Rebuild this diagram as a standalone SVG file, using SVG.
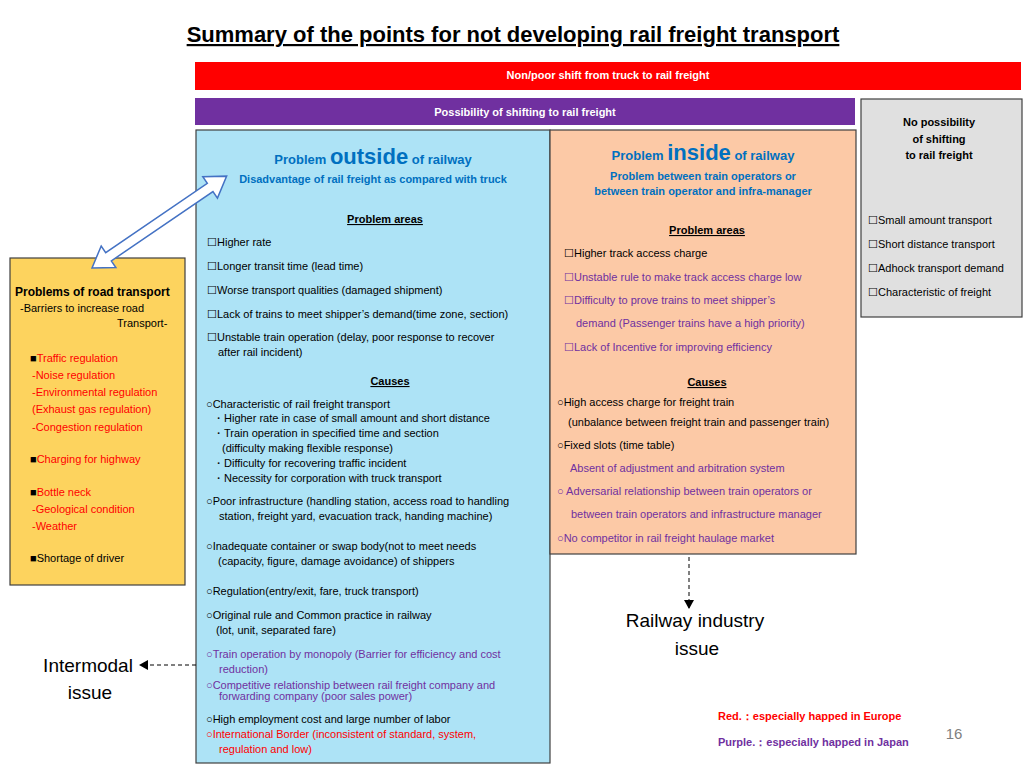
<svg xmlns="http://www.w3.org/2000/svg" width="1024" height="768" viewBox="0 0 1024 768">
<defs>
<style>
text{font-family:"Liberation Sans",Arial,sans-serif;font-size:11px;fill:#000}
.b{font-weight:bold}
.c{text-anchor:middle}
.bl{fill:#0070c0;font-weight:bold}
.r{fill:#ff0000}
.p{fill:#7030a0}
.u{text-decoration:underline;font-weight:bold}
.big{font-size:19px;font-family:"Liberation Sans",Arial,sans-serif}
.box{stroke:#404040;stroke-width:1.2}
</style>
<marker id="ah" markerWidth="10" markerHeight="10" refX="8" refY="5" orient="auto" markerUnits="userSpaceOnUse">
<path d="M0,0 L9,5 L0,10 Z" fill="#000"/>
</marker>
</defs>
<rect width="1024" height="768" fill="#fff"/>
<text x="513" y="42" class="c u" style="font-size:22px">Summary of the points for not developing rail freight transport</text>

<g id="bar-red"><rect x="195" y="62" width="826" height="28" fill="#ff0000"/>
<text x="608" y="79" class="c b" style="fill:#fff">Non/poor shift from truck to rail freight</text></g>
<g id="bar-purple"><rect x="195" y="98" width="660" height="27" fill="#7030a0"/>
<text x="525" y="116" class="c b" style="fill:#fff">Possibility of shifting to rail freight</text></g>

<g id="grey"><rect x="861" y="99" width="161" height="218" fill="#e0e0e0" class="box"/>
<text class="c b" x="939" y="126">No possibility</text>
<text class="c b" x="939" y="143">of shifting</text>
<text class="c b" x="939" y="159">to rail freight</text>
<text x="868" y="224">☐Small amount transport</text>
<text x="868" y="248">☐Short distance transport</text>
<text x="868" y="272">☐Adhock transport demand</text>
<text x="868" y="296">☐Characteristic of  freight</text></g>

<g id="outside"><rect x="196" y="130" width="354" height="633" fill="#ade3f6" class="box"/>
<text x="373" y="164" class="c bl" style="font-size:13px">Problem <tspan style="font-size:22px">outside</tspan> of railway</text>
<text x="373" y="183" class="c bl">Disadvantage of rail freight as compared with truck</text>
<text x="385" y="223" class="c u">Problem areas</text>
<text x="207" y="246">☐Higher rate</text>
<text x="207" y="270">☐Longer transit time (lead time)</text>
<text x="207" y="294">☐Worse transport qualities (damaged shipment)</text>
<text x="207" y="318">☐Lack of trains to meet shipper’s demand(time zone, section)</text>
<text x="207" y="341">☐Unstable train operation (delay, poor response to recover</text>
<text x="218" y="356">after rail incident)</text>
<text x="390" y="385" class="c u">Causes</text>
<text x="206" y="408">○Characteristic of rail freight transport</text>
<text x="213" y="422">・Higher rate in case of small amount and short distance</text>
<text x="213" y="437">・Train operation in specified time and section</text>
<text x="222" y="452">(difficulty making flexible response)</text>
<text x="213" y="467">・Difficulty for recovering traffic incident</text>
<text x="213" y="482">・Necessity for corporation with truck transport</text>
<text x="206" y="505">○Poor infrastructure (handling station, access road to handling</text>
<text x="219" y="520">station, freight yard, evacuation track, handing machine)</text>
<text x="206" y="550">○Inadequate container or swap body(not to meet needs</text>
<text x="218" y="565">(capacity, figure, damage avoidance) of shippers</text>
<text x="206" y="595">○Regulation(entry/exit, fare, truck transport)</text>
<text x="206" y="619">○Original rule and Common practice in railway</text>
<text x="216" y="634">(lot, unit, separated fare)</text>
<text x="206" y="658" class="p">○Train operation by monopoly (Barrier for efficiency and cost</text>
<text x="219" y="673" class="p">reduction)</text>
<text x="206" y="689" class="p">○Competitive relationship between rail freight company and</text>
<text x="219" y="700" class="p">forwarding company (poor sales power)</text>
<text x="206" y="723">○High employment cost and large number of labor</text>
<text x="206" y="738" class="r">○International Border (inconsistent of standard, system,</text>
<text x="219" y="753" class="r">regulation and low)</text></g>

<g id="inside"><rect x="550" y="130" width="306" height="424" fill="#fcc9a6" class="box"/>
<text x="703" y="160" class="c bl" style="font-size:13px">Problem <tspan style="font-size:22px">inside</tspan> of railway</text>
<text x="703" y="180" class="c bl">Problem between train operators or</text>
<text x="703" y="195" class="c bl">between train operator and infra-manager</text>
<text x="707" y="234" class="c u">Problem areas</text>
<text x="564" y="257">☐Higher track access charge</text>
<text x="564" y="281" class="p">☐Unstable rule to make track access charge low</text>
<text x="564" y="304" class="p">☐Difficulty to prove trains to meet shipper’s</text>
<text x="576" y="327" class="p">demand (Passenger trains have a high priority)</text>
<text x="564" y="351" class="p">☐Lack of Incentive for improving efficiency</text>
<text x="707" y="386" class="c u">Causes</text>
<text x="557" y="406">○High access charge for freight train</text>
<text x="568" y="426">(unbalance between freight train and passenger train)</text>
<text x="557" y="449">○Fixed slots (time table)</text>
<text x="570" y="472" class="p">Absent of adjustment and arbitration system</text>
<text x="557" y="495" class="p">○ Adversarial relationship between train operators or</text>
<text x="571" y="518" class="p">between train operators and infrastructure manager</text>
<text x="557" y="542" class="p">○No competitor in rail freight haulage market</text></g>

<g id="road"><rect x="10" y="258" width="175" height="327" fill="#fdd35e" class="box"/>
<text x="15" y="296" class="b" style="font-size:12px">Problems of road transport</text>
<text x="20" y="312">-Barriers to increase road</text>
<text x="117" y="327">Transport-</text>
<text x="30" y="362"><tspan>■</tspan><tspan class="r">Traffic regulation</tspan></text>
<text x="32" y="379" class="r">-Noise regulation</text>
<text x="32" y="396" class="r">-Environmental regulation</text>
<text x="32" y="413" class="r">(Exhaust gas regulation)</text>
<text x="32" y="431" class="r">-Congestion regulation</text>
<text x="30" y="463"><tspan>■</tspan><tspan class="r">Charging for highway</tspan></text>
<text x="30" y="496"><tspan>■</tspan><tspan class="r">Bottle neck</tspan></text>
<text x="32" y="513" class="r">-Geological condition</text>
<text x="32" y="530" class="r">-Weather</text>
<text x="30" y="562">■Shortage of driver</text></g>

<g id="connectors">
<g transform="translate(92,268) rotate(-34.3)">
<polygon points="0,0 20,-13 20,-5 143,-5 143,-13 163,0 143,13 143,5 20,5 20,13" fill="#fff" stroke="#4472c4" stroke-width="1.5"/>
</g>
<line x1="196" y1="665" x2="140" y2="665" stroke="#000" stroke-dasharray="4,3" marker-end="url(#ah)"/>
<line x1="689" y1="557" x2="689" y2="608" stroke="#000" stroke-dasharray="4,3" marker-end="url(#ah)"/>
</g>

<g id="labels">
<text x="88" y="672" class="c big">Intermodal</text>
<text x="90" y="699" class="c big">issue</text>
<text x="695" y="627" class="c big">Railway industry</text>
<text x="697" y="655" class="c big">issue</text>
<text x="718" y="720" class="b r">Red.：especially happed in Europe</text>
<text x="718" y="746" class="b p">Purple.：especially happed in Japan</text>
<text x="954" y="739" class="c" style="font-size:15px;fill:#808080">16</text>
</g>
</svg>
